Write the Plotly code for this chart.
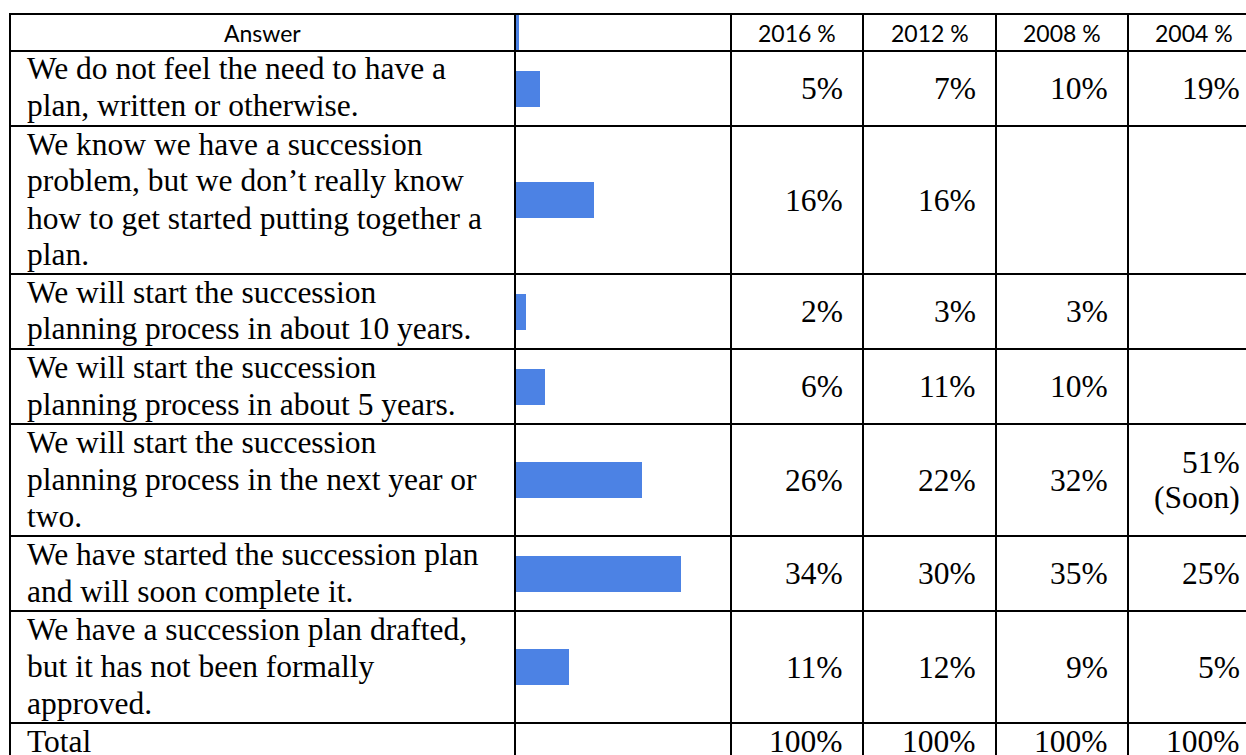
import plotly.graph_objects as go

# ---------------- data ----------------
answers = [
    "We do not feel the need to have a<br>plan, written or otherwise.",
    "We know we have a succession<br>problem, but we don’t really know<br>how to get started putting together a<br>plan.",
    "We will start the succession<br>planning process in about 10 years.",
    "We will start the succession<br>planning process in about 5 years.",
    "We will start the succession<br>planning process in the next year or<br>two.",
    "We have started the succession plan<br>and will soon complete it.",
    "We have a succession plan drafted,<br>but it has not been formally<br>approved.",
]
total_label = "Total"
headers = ["Answer", "", "2016 %", "2012 %", "2008 %", "2004 %"]
v2016 = [5, 16, 2, 6, 26, 34, 11]
v2012 = [7, 16, 3, 11, 22, 30, 12]
v2008 = [10, None, 3, 10, 32, 35, 9]
v2004 = [19, None, None, None, 51, 25, 5]
notes2004 = ["", "", "", "", "(Soon)", "", ""]
totals = [100, 100, 100, 100]
header_bar = [0.7]

# ---------------- layout geometry (pixels) ----------------
W, H = 1246, 755
col_x = [10, 515, 731, 863, 996, 1128, 1260]
row_y = [14, 51, 126, 274, 349, 424, 536, 611, 723, 760]
LINE = 37
BAR_COLOR = "#4C82E4"
SERIF = "'Liberation Serif', 'Times New Roman', serif"
SANS = "Lato, 'Open Sans', sans-serif"
BODY_SIZE = 31.5
HEAD_SIZE = 23
px_per_pct = 4.85
bar_x0 = 516


def px(x):
    return x / W


def py(y):
    return 1 - y / H


fig = go.Figure()

row_centers = [(row_y[i] + row_y[i + 1]) / 2 for i in range(1, len(answers) + 1)]

fig.add_trace(go.Bar(
    x=v2016, y=row_centers, orientation="h", width=36,
    marker=dict(color=BAR_COLOR, line=dict(width=0)),
    hoverinfo="skip", showlegend=False,
))
fig.add_trace(go.Bar(
    x=header_bar, y=[(row_y[0] + row_y[1]) / 2], orientation="h",
    width=row_y[1] - row_y[0],
    marker=dict(color=BAR_COLOR, line=dict(width=0)),
    hoverinfo="skip", showlegend=False,
))

shapes = []
for y in row_y:
    shapes.append(dict(type="line", xref="paper", yref="paper",
                       x0=px(col_x[0] - 1), x1=px(col_x[-1]), y0=py(y), y1=py(y),
                       line=dict(color="black", width=2), layer="above"))
for x in col_x:
    shapes.append(dict(type="line", xref="paper", yref="paper",
                       x0=px(x), x1=px(x), y0=py(row_y[0] - 1), y1=py(row_y[-1]),
                       line=dict(color="black", width=2), layer="above"))

ann = []
# header
for i, h in enumerate(headers):
    if not h:
        continue
    ann.append(dict(text=h, xref="paper", yref="paper",
                    x=px((col_x[i] + col_x[i + 1]) / 2), y=py((row_y[0] + row_y[1]) / 2),
                    xanchor="center", yanchor="middle", showarrow=False,
                    font=dict(family=SANS, size=HEAD_SIZE, color="black")))

TEXT_X = 25
TOP_OFF = 18
RIGHT_PAD = 18


def add_lines(text, x, top, anchor):
    for j, line in enumerate(text.split("<br>")):
        ann.append(dict(text=line, xref="paper", yref="paper",
                        x=px(x), y=py(top + TOP_OFF + LINE * j),
                        xanchor=anchor, yanchor="middle", showarrow=False,
                        font=dict(family=SERIF, size=BODY_SIZE, color="black")))


def add_centered(lines, x_right, center):
    n = len(lines)
    for j, line in enumerate(lines):
        yc = center + (j - (n - 1) / 2) * 36
        ann.append(dict(text=line, xref="paper", yref="paper",
                        x=px(x_right), y=py(yc),
                        xanchor="right", yanchor="middle", showarrow=False,
                        font=dict(family=SERIF, size=BODY_SIZE, color="black")))


for r, a in enumerate(answers):
    add_lines(a, TEXT_X, row_y[r + 1], "left")

series = [v2016, v2012, v2008, v2004]
for c, vals in enumerate(series):
    x_right = col_x[c + 3] - RIGHT_PAD
    for r, v in enumerate(vals):
        if v is None:
            continue
        lines = [f"{v}%"]
        if c == 3 and notes2004[r]:
            lines.append(notes2004[r])
        add_centered(lines, x_right, row_centers[r])

# total row
add_lines(total_label, TEXT_X, row_y[8], "left")
for c, t in enumerate(totals):
    ann.append(dict(text=f"{t}%", xref="paper", yref="paper",
                    x=px(col_x[c + 3] - RIGHT_PAD), y=py(row_y[8] + TOP_OFF),
                    xanchor="right", yanchor="middle", showarrow=False,
                    font=dict(family=SERIF, size=BODY_SIZE, color="black")))

fig.update_layout(
    width=W, height=H,
    margin=dict(l=0, r=0, t=0, b=0),
    font=dict(family=SERIF),
    paper_bgcolor="white", plot_bgcolor="rgba(0,0,0,0)",
    xaxis=dict(domain=[px(bar_x0), px(col_x[2])], range=[0, (col_x[2] - bar_x0) / px_per_pct],
               visible=False, fixedrange=True),
    yaxis=dict(domain=[0, 1], range=[H, 0], visible=False, fixedrange=True),
    shapes=shapes, annotations=ann, bargap=0,
)

fig.write_html("out.html", config={"displayModeBar": False})
